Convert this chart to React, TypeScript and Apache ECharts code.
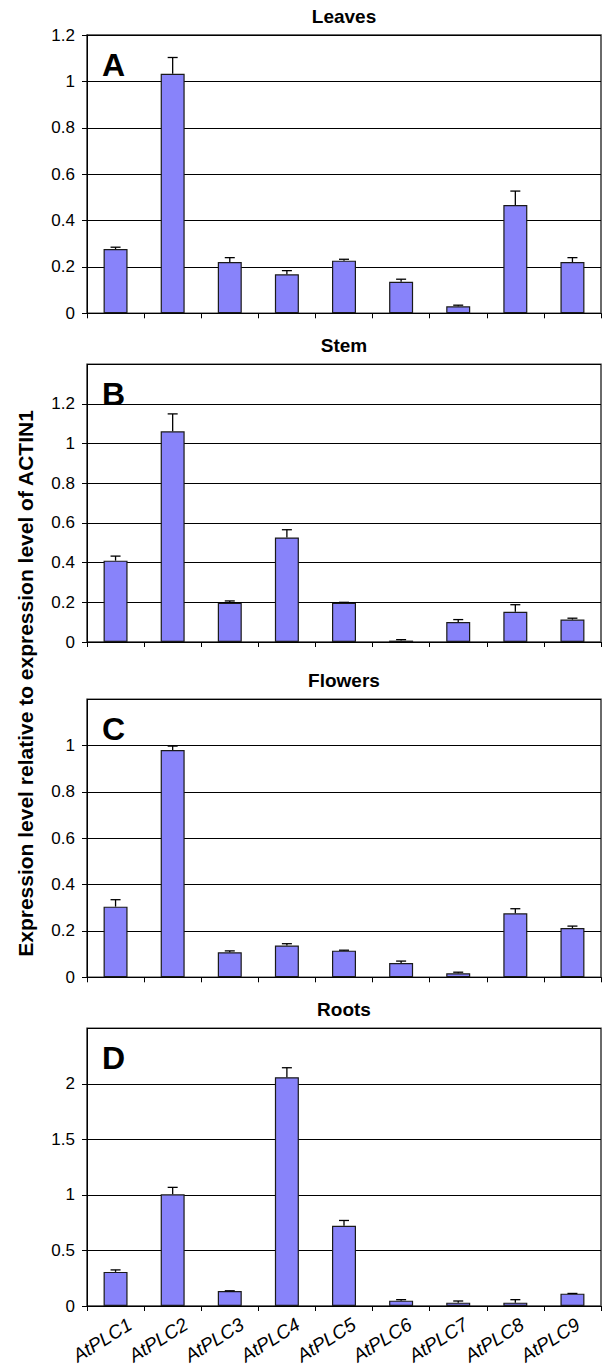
import React, { useEffect, useRef } from "react";
import * as echarts from "echarts";

const categories = ["AtPLC1", "AtPLC2", "AtPLC3", "AtPLC4", "AtPLC5", "AtPLC6", "AtPLC7", "AtPLC8", "AtPLC9"];

const leavesMean = [0.277, 1.033, 0.221, 0.168, 0.227, 0.136, 0.03, 0.467, 0.221];
const leavesErr = [0.008, 0.07, 0.019, 0.016, 0.006, 0.011, 0.005, 0.06, 0.019];

const stemMean = [0.41, 1.062, 0.197, 0.527, 0.197, 0.007, 0.101, 0.152, 0.113];
const stemErr = [0.023, 0.088, 0.01, 0.039, 0.003, 0.005, 0.012, 0.036, 0.007];

const flowersMean = [0.305, 0.981, 0.108, 0.137, 0.115, 0.062, 0.017, 0.276, 0.213];
const flowersErr = [0.03, 0.017, 0.006, 0.008, 0.002, 0.008, 0.005, 0.02, 0.008];

const rootsMean = [0.307, 1.005, 0.135, 2.06, 0.722, 0.048, 0.03, 0.03, 0.111];
const rootsErr = [0.018, 0.063, 0.002, 0.085, 0.048, 0.009, 0.015, 0.027, 0.002];

const panelTitles = ["Leaves", "Stem", "Flowers", "Roots"];
const panelLetters = ["A", "B", "C", "D"];
const axisMax = [1.2, 1.4, 1.2, 2.5];
const axisInterval = [0.2, 0.2, 0.2, 0.5];
const yAxisTitle = "Expression level relative to expression level of ACTIN1";

const FONT = "Liberation Sans, Arial, sans-serif";

export default function App() {
  const ref = useRef<HTMLDivElement>(null);
  useEffect(() => {
    document.body.style.margin = "0";
    if (!ref.current) return;
    const chart = echarts.init(ref.current, null, { renderer: "svg" });

    const means = [leavesMean, stemMean, flowersMean, rootsMean];
    const errs = [leavesErr, stemErr, flowersErr, rootsErr];
    const gridTops = [35, 364.3, 699.3, 1028.3];
    const gridHeights = [278.3, 277.7, 278, 277.7];
    const gLeft = 87;
    const gWidth = 514;

    const grids: any[] = gridTops.map((t, i) => ({
      left: gLeft,
      top: t,
      width: gWidth,
      height: gridHeights[i],
      show: true,
      borderColor: "#3a3a3a",
      borderWidth: 1.5,
      backgroundColor: "transparent",
    }));
    const labelShift = 15;
    grids.push({ left: gLeft + labelShift, top: gridTops[3], width: gWidth, height: gridHeights[3], show: false });

    const xAxes: any[] = gridTops.map((_, i) => ({
      type: "category",
      gridIndex: i,
      data: categories,
      boundaryGap: true,
      axisLine: { show: true, lineStyle: { color: "#000", width: 1 } },
      axisTick: { show: true, length: 5, lineStyle: { color: "#000", width: 1 } },
      axisLabel: { show: false },
      splitLine: { show: false },
    }));
    xAxes.push({
      type: "category",
      gridIndex: 4,
      data: categories,
      boundaryGap: true,
      axisLine: { show: false },
      axisTick: { show: false },
      axisLabel: {
        show: true,
        rotate: 32,
        margin: 22,
        fontSize: 19,
        fontStyle: "italic",
        fontFamily: FONT,
        color: "#000",
        interval: 0,
      },
    });

    const yAxes: any[] = gridTops.map((_, i) => ({
      type: "value",
      gridIndex: i,
      min: 0,
      max: axisMax[i],
      interval: axisInterval[i],
      axisLine: { show: true, lineStyle: { color: "#000", width: 1 } },
      axisTick: { show: true, length: 5, inside: false, lineStyle: { color: "#000", width: 1 } },
      axisLabel: {
        show: true,
        fontSize: 17,
        fontFamily: FONT,
        color: "#000",
        margin: 12,
        showMaxLabel: i === 0,
        formatter: (v: number) => String(Math.round(v * 10) / 10),
      },
      splitLine: { show: true, lineStyle: { color: "#000", width: 1 } },
    }));
    yAxes.push({ type: "value", gridIndex: 4, show: false, min: 0, max: 1 });

    const series: any[] = [];
    means.forEach((m, i) => {
      series.push({
        type: "bar",
        xAxisIndex: i,
        yAxisIndex: i,
        data: m,
        barWidth: "42%",
        itemStyle: { color: "#8883FA", borderColor: "#1a1a1a", borderWidth: 1.2 },
        z: 2,
      });
      series.push({
        type: "custom",
        xAxisIndex: i,
        yAxisIndex: i,
        z: 3,
        data: m.map((v, k) => [k, v, errs[i][k]]),
        renderItem: (params: any, api: any) => {
          const x = api.value(0);
          const v = api.value(1);
          const e = api.value(2);
          const p0 = api.coord([x, v]);
          const p1 = api.coord([x, v + e]);
          const half = 5;
          const st = { stroke: "#000", lineWidth: 1.3 };
          return {
            type: "group",
            children: [
              { type: "line", shape: { x1: p0[0], y1: p0[1], x2: p1[0], y2: p1[1] }, style: st },
              { type: "line", shape: { x1: p1[0] - half, y1: p1[1], x2: p1[0] + half, y2: p1[1] }, style: st },
            ],
          };
        },
      });
    });

    const titles = panelTitles.map((t, i) => ({
      text: t,
      left: gLeft + gWidth / 2,
      textAlign: "center",
      top: gridTops[i] - 28,
      padding: 0,
      textStyle: { fontSize: 19, fontWeight: "bold", fontFamily: FONT, color: "#000" },
    }));

    const graphics: any[] = panelLetters.map((l, i) => ({
      type: "text",
      x: 102,
      y: gridTops[i] + 30,
      style: {
        text: l,
        font: `bold 32px ${FONT}`,
        fill: "#000",
        textAlign: "left",
        textVerticalAlign: "middle",
      },
      z: 10,
    }));
    graphics.push({
      type: "text",
      x: 25,
      y: 683.5,
      rotation: Math.PI / 2,
      style: {
        text: yAxisTitle,
        font: `bold 21px ${FONT}`,
        fill: "#000",
        textAlign: "center",
        textVerticalAlign: "middle",
      },
    });

    chart.setOption({
      animation: false,
      backgroundColor: "#fff",
      title: titles,
      grid: grids,
      xAxis: xAxes,
      yAxis: yAxes,
      series,
      graphic: graphics,
    });
    return () => chart.dispose();
  }, []);
  return <div ref={ref} style={{ width: 606, height: 1367 }} />;
}
